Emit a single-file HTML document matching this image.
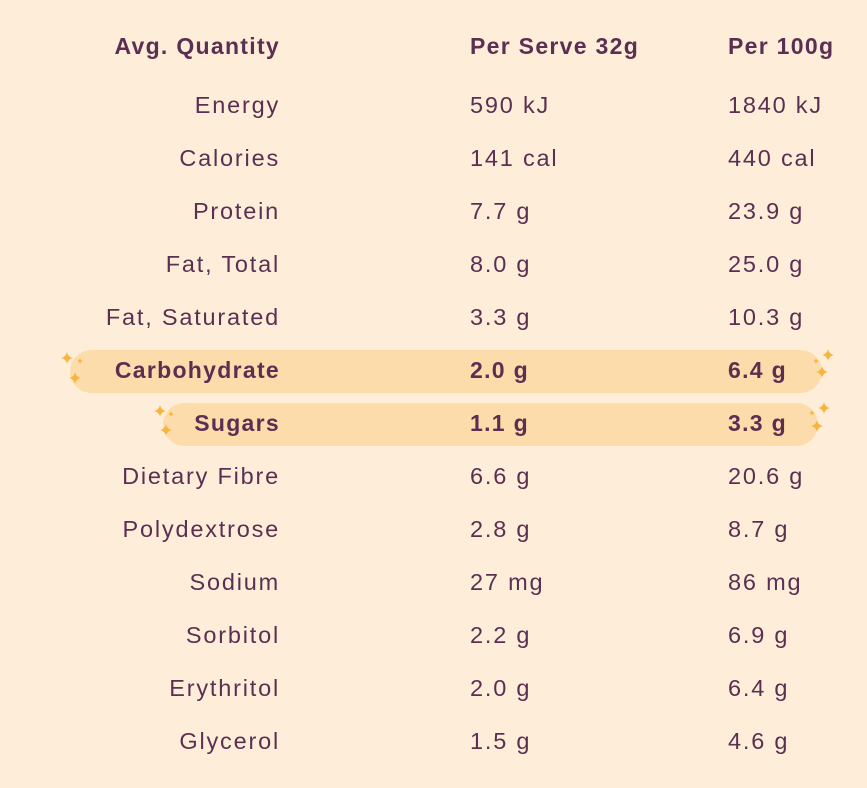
<!DOCTYPE html>
<html><head><style>
body{margin:0;width:867px;height:788px;background:#feeed9;font-family:"Liberation Sans",sans-serif;color:#5b2f52;position:relative;overflow:hidden}
.r{position:absolute;left:0;width:867px;height:44px;line-height:44px;font-size:23.5px;letter-spacing:1.8px}
.r span{position:absolute;top:0;white-space:nowrap}
.a{right:587px;text-align:right}
.b{left:470px}
.c{left:728px}
.bar{position:absolute;height:43px;background:#fddcab;border-radius:22px}
.bold{font-weight:bold;font-size:23px;letter-spacing:1.3px}
svg{position:absolute}
</style></head><body>
<div class="bar" style="left:70px;width:752px;top:350px"></div>
<div class="bar" style="left:163px;width:655px;top:403px"></div>
<svg width="867" height="788" style="left:0;top:0">
<defs><path id="s" d="M0,-6 Q1,-1 6,0 Q1,1 0,6 Q-1,1 -6,0 Q-1,-1 0,-6Z" fill="#f7b540"/></defs>
<use href="#s" x="67" y="358"/><use href="#s" x="75" y="378"/><use href="#s" x="80" y="361" transform="translate(80,361) scale(.5) translate(-80,-361)"/>
<use href="#s" x="160" y="411"/><use href="#s" x="166" y="430"/><use href="#s" x="171" y="414" transform="translate(171,414) scale(.5) translate(-171,-414)"/>
<use href="#s" x="828" y="355"/><use href="#s" x="822" y="372"/><use href="#s" x="816" y="361" transform="translate(816,361) scale(.5) translate(-816,-361)"/>
<use href="#s" x="824" y="408"/><use href="#s" x="817" y="426"/><use href="#s" x="812" y="413" transform="translate(812,413) scale(.5) translate(-812,-413)"/>
</svg>
<div class="r bold" style="top:24px"><span class="a">Avg. Quantity</span><span class="b">Per Serve 32g</span><span class="c">Per 100g</span></div>
<div class="r" style="top:83px"><span class="a">Energy</span><span class="b">590 kJ</span><span class="c">1840 kJ</span></div>
<div class="r" style="top:136px"><span class="a">Calories</span><span class="b">141 cal</span><span class="c">440 cal</span></div>
<div class="r" style="top:189px"><span class="a">Protein</span><span class="b">7.7 g</span><span class="c">23.9 g</span></div>
<div class="r" style="top:242px"><span class="a">Fat, Total</span><span class="b">8.0 g</span><span class="c">25.0 g</span></div>
<div class="r" style="top:295px"><span class="a">Fat, Saturated</span><span class="b">3.3 g</span><span class="c">10.3 g</span></div>
<div class="r bold" style="top:348px"><span class="a">Carbohydrate</span><span class="b">2.0 g</span><span class="c">6.4 g</span></div>
<div class="r bold" style="top:401px"><span class="a">Sugars</span><span class="b">1.1 g</span><span class="c">3.3 g</span></div>
<div class="r" style="top:454px"><span class="a">Dietary Fibre</span><span class="b">6.6 g</span><span class="c">20.6 g</span></div>
<div class="r" style="top:507px"><span class="a">Polydextrose</span><span class="b">2.8 g</span><span class="c">8.7 g</span></div>
<div class="r" style="top:560px"><span class="a">Sodium</span><span class="b">27 mg</span><span class="c">86 mg</span></div>
<div class="r" style="top:613px"><span class="a">Sorbitol</span><span class="b">2.2 g</span><span class="c">6.9 g</span></div>
<div class="r" style="top:666px"><span class="a">Erythritol</span><span class="b">2.0 g</span><span class="c">6.4 g</span></div>
<div class="r" style="top:719px"><span class="a">Glycerol</span><span class="b">1.5 g</span><span class="c">4.6 g</span></div>
</body></html>
